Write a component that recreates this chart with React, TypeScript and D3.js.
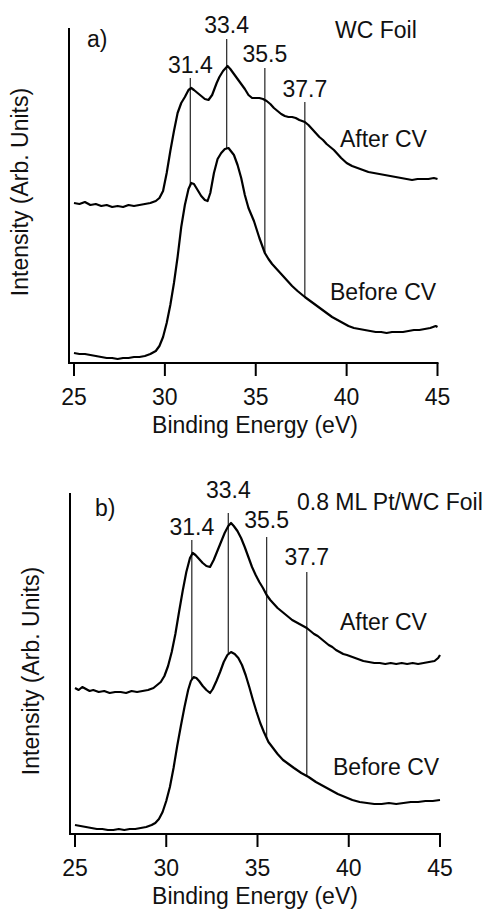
import React from "react";
import * as d3 from "d3";

// ---------- DATA ----------
const xTicks = [25, 30, 35, 40, 45];
const peakEnergies = [31.4, 33.4, 35.5, 37.7];
const peakLabels = ["31.4", "33.4", "35.5", "37.7"];

// panel a: line tops and label baselines in intensity units
const aPeakLineTop = [285, 324, 295, 261];
const aPeakLabelY = [290, 330, 301, 266];
const bPeakLineTop = [294, 321, 297, 262];
const bPeakLabelY = [299, 336, 306, 269];

// WC Foil, After CV
const aAfterE = [25.0, 25.3, 25.6, 25.9, 26.2, 26.5, 26.8, 27.1, 27.4, 27.7, 28.0, 28.3, 28.6, 28.9, 29.2, 29.5, 29.7, 29.9, 30.1, 30.3, 30.5, 30.7, 30.9, 31.1, 31.3, 31.45, 31.6, 31.8, 32.0, 32.2, 32.4, 32.6, 32.85, 33.0, 33.2, 33.45, 33.6, 33.8, 34.0, 34.2, 34.4, 34.6, 34.8, 35.0, 35.2, 35.4, 35.6, 35.8, 36.0, 36.2, 36.4, 36.6, 36.8, 37.0, 37.2, 37.4, 37.7, 37.9, 38.1, 38.3, 38.5, 38.7, 38.9, 39.1, 39.3, 39.5, 39.7, 40.0, 40.3, 40.6, 40.9, 41.2, 41.5, 41.8, 42.1, 42.4, 42.7, 43.0, 43.3, 43.6, 43.9, 44.2, 44.5, 44.8, 45.0];
const aAfterI = [160, 159, 161, 158, 159, 157, 158, 156, 157, 156, 158, 157, 158, 159, 160, 162, 165, 172, 190, 212, 232, 250, 260, 266, 273, 275, 273, 270, 267, 264, 263, 268, 280, 286, 292, 297, 294, 289, 284, 279, 274, 268, 265, 265, 265, 264, 262, 259, 255, 252, 249, 247, 246, 246, 245, 243, 241, 238, 234, 230, 226, 223, 219, 216, 213, 209, 205, 200, 197, 195, 193, 191, 190, 189, 188, 187, 186, 185, 184, 183, 184, 184, 184, 185, 184];

// WC Foil, Before CV
const aBeforeE = [25.0, 25.3, 25.6, 25.9, 26.2, 26.5, 26.8, 27.1, 27.4, 27.7, 28.0, 28.3, 28.6, 28.9, 29.2, 29.5, 29.7, 29.9, 30.1, 30.3, 30.5, 30.7, 30.9, 31.1, 31.3, 31.45, 31.6, 31.8, 32.0, 32.2, 32.35, 32.5, 32.7, 32.9, 33.1, 33.3, 33.5, 33.8, 34.0, 34.2, 34.4, 34.6, 34.9, 35.2, 35.5, 35.7, 35.9, 36.1, 36.4, 36.7, 37.0, 37.3, 37.7, 38.0, 38.3, 38.6, 38.9, 39.2, 39.5, 39.8, 40.1, 40.4, 40.7, 41.0, 41.3, 41.6, 41.9, 42.2, 42.5, 42.8, 43.1, 43.4, 43.7, 44.0, 44.3, 44.6, 44.9, 45.0];
const aBeforeI = [10, 9, 9, 8, 7, 6, 5, 5, 4, 5, 5, 6, 6, 7, 9, 12, 17, 26, 40, 58, 80, 106, 136, 158, 174, 180, 179, 173, 167, 163, 162, 170, 190, 204, 210, 214, 215, 208, 198, 185, 168, 155, 142, 125, 110, 104, 99, 95, 89, 83, 77, 72, 66, 62, 58, 54, 50, 46, 43, 40, 37, 35, 34, 33, 32, 31, 31, 30, 31, 31, 31, 32, 33, 33, 34, 35, 37, 36];

// 0.8 ML Pt/WC Foil, After CV
const bAfterE = [25.0, 25.2, 25.4, 25.6, 25.8, 26.0, 26.3, 26.6, 26.9, 27.2, 27.5, 27.8, 28.1, 28.4, 28.7, 29.0, 29.3, 29.5, 29.7, 29.9, 30.1, 30.3, 30.5, 30.7, 30.9, 31.1, 31.3, 31.45, 31.6, 31.8, 32.0, 32.2, 32.4, 32.6, 32.8, 33.0, 33.2, 33.4, 33.55, 33.7, 33.9, 34.1, 34.3, 34.5, 34.7, 34.9, 35.1, 35.3, 35.5, 35.7, 35.9, 36.1, 36.3, 36.5, 36.7, 36.9, 37.1, 37.3, 37.5, 37.7, 37.9, 38.1, 38.3, 38.5, 38.7, 38.9, 39.1, 39.3, 39.5, 39.7, 39.9, 40.2, 40.5, 40.8, 41.1, 41.4, 41.7, 42.0, 42.3, 42.6, 42.9, 43.2, 43.5, 43.8, 44.1, 44.4, 44.7, 44.9, 45.0];
const bAfterI = [146, 144, 147, 145, 143, 144, 142, 143, 141, 142, 142, 141, 143, 142, 143, 144, 146, 149, 152, 158, 168, 182, 200, 222, 243, 262, 276, 281, 279, 275, 271, 268, 267, 274, 283, 292, 301, 308, 311, 308, 303, 296, 287, 277, 267, 259, 252, 246, 239, 234, 230, 226, 223, 220, 217, 214, 212, 210, 208, 206, 203, 200, 198, 195, 192, 189, 187, 184, 182, 180, 179, 177, 175, 173, 172, 171, 171, 170, 171, 170, 171, 170, 171, 170, 171, 172, 173, 176, 179];

// 0.8 ML Pt/WC Foil, Before CV
const bBeforeE = [25.0, 25.3, 25.6, 25.9, 26.2, 26.5, 26.8, 27.1, 27.4, 27.7, 28.0, 28.3, 28.6, 28.9, 29.2, 29.4, 29.6, 29.8, 30.0, 30.2, 30.4, 30.6, 30.8, 31.0, 31.2, 31.35, 31.5, 31.65, 31.8, 32.0, 32.2, 32.4, 32.55, 32.75, 32.95, 33.15, 33.35, 33.55, 33.75, 33.95, 34.15, 34.35, 34.55, 34.75, 34.95, 35.15, 35.35, 35.6, 35.85, 36.1, 36.4, 36.7, 37.0, 37.4, 37.8, 38.2, 38.6, 39.0, 39.4, 39.8, 40.2, 40.6, 41.0, 41.4, 41.8, 42.2, 42.6, 43.0, 43.4, 43.8, 44.2, 44.6, 45.0];
const bBeforeI = [9, 8, 7, 6, 5, 5, 4, 4, 5, 4, 5, 5, 6, 7, 9, 11, 15, 22, 33, 47, 66, 88, 108, 127, 144, 153, 157, 156, 153, 148, 144, 141, 145, 153, 162, 172, 179, 182, 180, 176, 169, 159, 147, 134, 122, 111, 102, 92, 86, 80, 74, 70, 66, 61, 57, 52, 48, 44, 40, 37, 34, 32, 31, 30, 30, 31, 30, 31, 32, 32, 33, 33, 34];

type Pt = [number, number];
const zip = (e: number[], v: number[]): Pt[] => e.map((x, i) => [x, v[i]]);

const FONT = "'Liberation Sans', Arial, Helvetica, sans-serif";
const FS = 23;

interface PanelProps {
  x0: number; x1: number; yTop: number; yBot: number; yMax: number;
  letter: string; letterX: number; letterY: number;
  title: string; titleX: number; titleY: number;
  afterX: number; afterY: number; beforeX: number; beforeY: number;
  ylabX: number; ylabY: number;
  after: Pt[]; before: Pt[];
  lineTop: number[]; labelY: number[];
}

function Panel(p: PanelProps) {
  const x = d3.scaleLinear().domain([25, 45]).range([p.x0, p.x1]);
  const y = d3.scaleLinear().domain([0, p.yMax]).range([p.yBot, p.yTop]);
  const line = d3.line<Pt>().x((d) => x(d[0])).y((d) => y(d[1]));
  const beforeAt = (e: number) => {
    const es = p.before.map((d) => d[0]);
    const vs = p.before.map((d) => d[1]);
    const i = d3.bisectLeft(es, e);
    if (i <= 0) return vs[0];
    const t = (e - es[i - 1]) / (es[i] - es[i - 1]);
    return vs[i - 1] + t * (vs[i] - vs[i - 1]);
  };
  const axisX = x(25) - 5;
  return (
    <g>
      {/* y axis */}
      <line x1={axisX} x2={axisX} y1={p.yTop} y2={p.yBot} stroke="#000" strokeWidth={2} />
      {/* x axis */}
      <line x1={axisX - 1} x2={x(45) + 1} y1={p.yBot} y2={p.yBot} stroke="#000" strokeWidth={2} />
      {xTicks.map((t) => (
        <g key={t}>
          <line x1={x(t)} x2={x(t)} y1={p.yBot} y2={p.yBot + 13} stroke="#000" strokeWidth={2} />
          <text x={x(t)} y={p.yBot + 42} textAnchor="middle" fontSize={FS} fontFamily={FONT} fill="#111">
            {t}
          </text>
        </g>
      ))}
      <text x={255} y={p.yBot + 70} textAnchor="middle" fontSize={FS} fontFamily={FONT} fill="#111">
        Binding Energy (eV)
      </text>
      <text
        transform={`translate(${p.ylabX},${p.ylabY}) rotate(-90)`}
        textAnchor="middle" fontSize={FS} fontFamily={FONT} fill="#111"
      >
        Intensity (Arb. Units)
      </text>
      {/* peak marker lines */}
      {peakEnergies.map((e, i) => (
        <g key={e}>
          <line x1={x(e)} x2={x(e)} y1={y(p.lineTop[i])} y2={y(beforeAt(e))} stroke="#333" strokeWidth={1.3} />
          <text x={x(e)} y={y(p.labelY[i])} textAnchor="middle" fontSize={FS} fontFamily={FONT} fill="#111">
            {peakLabels[i]}
          </text>
        </g>
      ))}
      <path d={line(p.after) || ""} fill="none" stroke="#000" strokeWidth={2.2} strokeLinejoin="round" />
      <path d={line(p.before) || ""} fill="none" stroke="#000" strokeWidth={2.2} strokeLinejoin="round" />
      <text x={p.letterX} y={p.letterY} fontSize={FS} fontFamily={FONT} fill="#111">{p.letter}</text>
      <text x={p.titleX} y={p.titleY} fontSize={FS} fontFamily={FONT} fill="#111">{p.title}</text>
      <text x={p.afterX} y={p.afterY} fontSize={FS} fontFamily={FONT} fill="#111">After CV</text>
      <text x={p.beforeX} y={p.beforeY} fontSize={FS} fontFamily={FONT} fill="#111">Before CV</text>
    </g>
  );
}

export default function App() {
  return (
    <svg width={494} height={910} style={{ position: "absolute", left: 0, top: 0, background: "#fff" }}>
      <rect width={494} height={910} fill="#fff" />
      <Panel
        x0={74} x1={437.5} yTop={28} yBot={363} yMax={335}
        letter="a)" letterX={87} letterY={47}
        title="WC Foil" titleX={335} titleY={38}
        afterX={340} afterY={147} beforeX={330} beforeY={300}
        ylabX={28} ylabY={192}
        after={zip(aAfterE, aAfterI)} before={zip(aBeforeE, aBeforeI)}
        lineTop={aPeakLineTop} labelY={aPeakLabelY}
      />
      <Panel
        x0={75} x1={440} yTop={493} yBot={834} yMax={341}
        letter="b)" letterX={95} letterY={516}
        title="0.8 ML Pt/WC Foil" titleX={297} titleY={510}
        afterX={340} afterY={630} beforeX={333} beforeY={775}
        ylabX={39} ylabY={671}
        after={zip(bAfterE, bAfterI)} before={zip(bBeforeE, bBeforeI)}
        lineTop={bPeakLineTop} labelY={bPeakLabelY}
      />
    </svg>
  );
}
